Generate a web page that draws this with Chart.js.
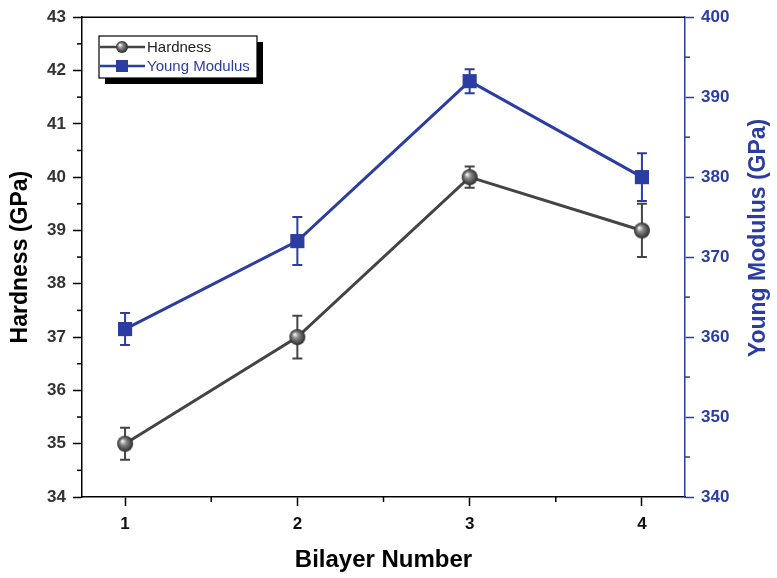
<!DOCTYPE html>
<html>
<head>
<meta charset="utf-8">
<script src="https://cdn.jsdelivr.net/npm/chart.js@4.4.0/dist/chart.umd.min.js"></script>
<style>
  html, body { margin: 0; padding: 0; background: #fff; }
  #wrap { width: 777px; height: 578px; }
</style>
</head>
<body>
<div id="wrap"><canvas id="chart" width="777" height="578"></canvas></div>
<script>
// values
const bilayers = [1, 2, 3, 4];
const hardness = [35, 37, 40, 39];
const hardnessErr = [0.3, 0.4, 0.2, 0.5];
const youngModulus = [361, 372, 392, 380];
const youngErr = [2, 3, 1.5, 3];

const xTicks = [1, 1.5, 2, 2.5, 3, 3.5, 4];
const hardnessTicks = [34, 34.5, 35, 35.5, 36, 36.5, 37, 37.5, 38, 38.5, 39, 39.5, 40, 40.5, 41, 41.5, 42, 42.5, 43];
const youngTicks = [340, 345, 350, 355, 360, 365, 370, 375, 380, 385, 390, 395, 400];

const GREY = "#444444";
const BLUE = "#2b3da0";
const FONT = "'Liberation Sans', Arial, sans-serif";

// shaded sphere used as the hardness marker
function makeSphere(r) {
  const c = document.createElement("canvas");
  c.width = c.height = r * 2 + 2;
  const g = c.getContext("2d");
  const cx = r + 1, cy = r + 1;
  const grad = g.createRadialGradient(cx - r * 0.35, cy - r * 0.35, 0.5, cx, cy, r);
  grad.addColorStop(0, "#f2f2f2");
  grad.addColorStop(0.35, "#8a8a8a");
  grad.addColorStop(1, "#2a2a2a");
  g.fillStyle = grad;
  g.beginPath();
  g.arc(cx, cy, r, 0, Math.PI * 2);
  g.fill();
  return c;
}
const sphere = makeSphere(8);
const sphereSmall = makeSphere(6);

const values = { 0: hardness, 1: youngModulus };
const errors = { 0: hardnessErr, 1: youngErr };

const errorBars = {
  id: "errorBars",
  beforeDatasetsDraw(chart) {
    const ctx = chart.ctx;
    chart.data.datasets.forEach((ds, i) => {
      const meta = chart.getDatasetMeta(i);
      const yScale = chart.scales[ds.yAxisID];
      const vals = values[i];
      const err = errors[i];
      ctx.save();
      ctx.strokeStyle = ds.borderColor;
      ctx.lineWidth = 2;
      meta.data.forEach((pt, j) => {
        const top = yScale.getPixelForValue(vals[j] + err[j]);
        const bot = yScale.getPixelForValue(vals[j] - err[j]);
        ctx.beginPath();
        ctx.moveTo(pt.x, top); ctx.lineTo(pt.x, bot);
        ctx.moveTo(pt.x - 5, top); ctx.lineTo(pt.x + 5, top);
        ctx.moveTo(pt.x - 5, bot); ctx.lineTo(pt.x + 5, bot);
        ctx.stroke();
      });
      ctx.restore();
    });
  },
};

// frame top line, minor ticks, right title and the boxed legend
const decorations = {
  id: "decorations",
  afterDraw(chart) {
    const ctx = chart.ctx;
    const a = chart.chartArea;
    ctx.save();
    ctx.strokeStyle = "#000";
    ctx.lineWidth = 1.5;
    ctx.beginPath();
    ctx.moveTo(a.left, a.top);
    ctx.lineTo(a.right, a.top);
    ctx.stroke();

    // minor ticks
    const minor = (scale, isMinor, color, side) => {
      ctx.strokeStyle = color;
      ctx.lineWidth = 1.5;
      scale.ticks.forEach((t) => {
        if (!isMinor(t.value)) return;
        const p = scale.getPixelForValue(t.value);
        ctx.beginPath();
        if (side === "bottom") { ctx.moveTo(p, a.bottom); ctx.lineTo(p, a.bottom + 5); }
        if (side === "left") { ctx.moveTo(a.left, p); ctx.lineTo(a.left - 5, p); }
        if (side === "right") { ctx.moveTo(a.right, p); ctx.lineTo(a.right + 5, p); }
        ctx.stroke();
      });
    };
    minor(chart.scales.x, (v) => !Number.isInteger(v), "#000", "bottom");
    minor(chart.scales.y, (v) => !Number.isInteger(v), "#000", "left");
    minor(chart.scales.y1, (v) => v % 10 !== 0, BLUE, "right");

    // right axis title, reading bottom to top
    ctx.fillStyle = BLUE;
    ctx.font = "bold 23px " + FONT;
    ctx.textAlign = "center";
    ctx.textBaseline = "middle";
    ctx.translate(759, 238);
    ctx.rotate(-Math.PI / 2);
    ctx.fillText("Young Modulus (GPa)", 0, 0);
    ctx.setTransform(1, 0, 0, 1, 0, 0);

    // legend
    const lx = 99, ly = 36, lw = 158, lh = 42;
    ctx.fillStyle = "#000";
    ctx.fillRect(lx + 6, ly + 6, lw, lh);
    ctx.fillStyle = "#fff";
    ctx.fillRect(lx, ly, lw, lh);
    ctx.strokeStyle = "#000";
    ctx.lineWidth = 1.2;
    ctx.strokeRect(lx, ly, lw, lh);

    ctx.font = "15px " + FONT;
    ctx.textAlign = "left";
    chart.data.datasets.forEach((ds, i) => {
      const y = ly + 11 + i * 19;
      ctx.strokeStyle = ds.borderColor;
      ctx.lineWidth = 2.5;
      ctx.beginPath();
      ctx.moveTo(lx + 1, y);
      ctx.lineTo(lx + 46, y);
      ctx.stroke();
      if (i === 0) {
        ctx.drawImage(sphereSmall, lx + 23 - sphereSmall.width / 2, y - sphereSmall.height / 2);
      } else {
        ctx.fillStyle = BLUE;
        ctx.fillRect(lx + 17, y - 6, 12, 12);
      }
      ctx.fillStyle = i === 0 ? "#222" : BLUE;
      ctx.fillText(ds.label, lx + 48, y + 1);
    });
    ctx.restore();
  },
};

new Chart(document.getElementById("chart"), {
  type: "line",
  data: {
    datasets: [
      {
        label: "Hardness",
        data: bilayers.map((b, i) => ({ x: b, y: hardness[i] })),
        yAxisID: "y",
        borderColor: GREY,
        backgroundColor: GREY,
        borderWidth: 3,
        pointStyle: sphere,
        pointRadius: 8,
        pointHoverRadius: 8,
      },
      {
        label: "Young Modulus",
        data: bilayers.map((b, i) => ({ x: b, y: youngModulus[i] })),
        yAxisID: "y1",
        borderColor: BLUE,
        backgroundColor: BLUE,
        borderWidth: 3,
        pointStyle: "rect",
        pointRadius: 10,
        pointHoverRadius: 10,
        pointBorderWidth: 0,
      },
    ],
  },
  options: {
    responsive: false,
    animation: false,
    clip: false,
    layout: { padding: { top: 16, left: 0, right: 0, bottom: 0 } },
    plugins: {
      legend: { display: false },
      tooltip: { enabled: false },
    },
    scales: {
      x: {
        type: "linear",
        min: 0.75,
        max: 4.25,
        afterBuildTicks: (s) => { s.ticks = xTicks.map((v) => ({ value: v })); },
        afterFit: (s) => { s.height = 81; },
        ticks: {
          autoSkip: false,
          maxRotation: 0,
          padding: 8,
          color: "#111",
          font: { family: FONT, size: 17, weight: "bold" },
          callback: (v) => (Number.isInteger(v) ? v : ""),
        },
        grid: {
          drawOnChartArea: false,
          tickLength: 9,
          tickWidth: 1.5,
          tickColor: (c) => (c.tick && !Number.isInteger(c.tick.value) ? "rgba(0,0,0,0)" : "#000"),
        },
        border: { color: "#000", width: 1.5 },
        title: {
          display: true,
          text: "Bilayer Number",
          color: "#000",
          font: { family: FONT, size: 24, weight: "bold" },
          padding: { top: 0, bottom: 3 },
        },
      },
      y: {
        position: "left",
        min: 34,
        max: 43,
        afterBuildTicks: (s) => { s.ticks = hardnessTicks.map((v) => ({ value: v })); },
        afterFit: (s) => { s.width = 82; },
        ticks: {
          autoSkip: false,
          padding: 7,
          color: "#333",
          font: { family: FONT, size: 17, weight: "bold" },
          callback: (v) => (Number.isInteger(v) ? v : ""),
        },
        grid: {
          drawOnChartArea: false,
          tickLength: 9,
          tickWidth: 1.5,
          tickColor: (c) => (c.tick && !Number.isInteger(c.tick.value) ? "rgba(0,0,0,0)" : "#000"),
        },
        border: { color: "#000", width: 1.5 },
        title: {
          display: true,
          text: "Hardness (GPa)",
          color: "#000",
          font: { family: FONT, size: 23, weight: "bold" },
          padding: { top: 7, bottom: 0 },
        },
      },
      y1: {
        position: "right",
        min: 340,
        max: 400,
        afterBuildTicks: (s) => { s.ticks = youngTicks.map((v) => ({ value: v })); },
        afterFit: (s) => { s.width = 92; },
        ticks: {
          autoSkip: false,
          padding: 7,
          color: BLUE,
          font: { family: FONT, size: 17, weight: "bold" },
          callback: (v) => (v % 10 === 0 ? v : ""),
        },
        grid: {
          drawOnChartArea: false,
          tickLength: 9,
          tickWidth: 1.5,
          tickColor: (c) => (c.tick && c.tick.value % 10 !== 0 ? "rgba(0,0,0,0)" : BLUE),
        },
        border: { color: BLUE, width: 1.5 },
      },
    },
  },
  plugins: [errorBars, decorations],
});
</script>
</body>
</html>
